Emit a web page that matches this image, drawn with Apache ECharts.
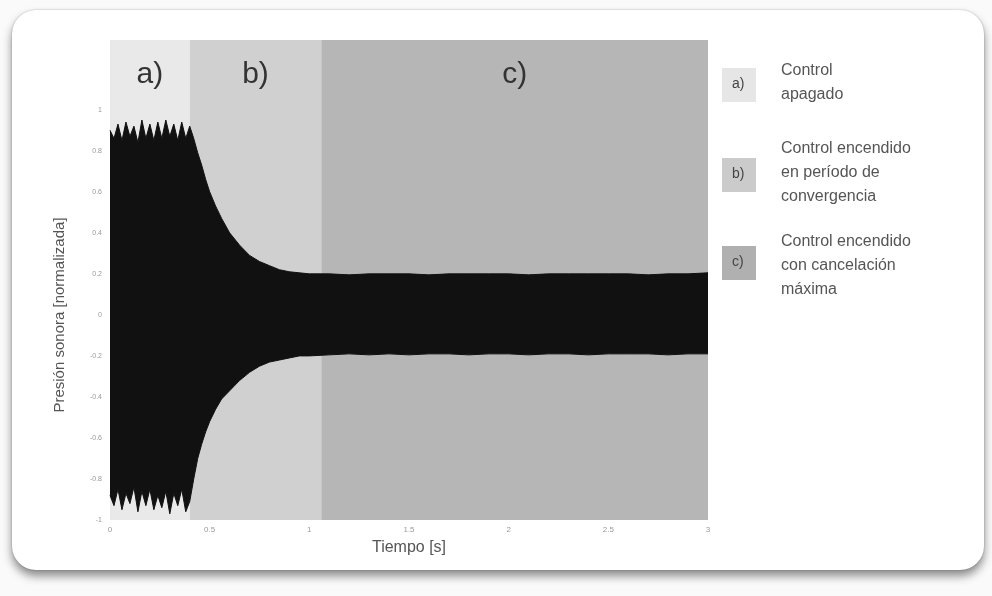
<!DOCTYPE html>
<html>
<head>
<meta charset="utf-8">
<script src="https://cdn.jsdelivr.net/npm/echarts@6/dist/echarts.min.js"></script>
<style>
  html, body { margin: 0; padding: 0; background: #fafafa; }
  #card {
    position: absolute; left: 12px; top: 10px; width: 972px; height: 560px;
    background: #ffffff; border-radius: 24px;
    box-shadow: 0 6px 10px rgba(0,0,0,0.45), 0 0 2px rgba(0,0,0,0.25);
  }
  #chart { position: absolute; left: 0; top: 0; width: 992px; height: 596px; }
</style>
</head>
<body>
<div id="card"></div>
<div id="chart"></div>
<script>
// Sampling instants of the pressure envelope (s)
const times = [
  0.00, 0.02, 0.04, 0.06, 0.08, 0.10, 0.12, 0.14, 0.16, 0.18,
  0.20, 0.22, 0.24, 0.26, 0.28, 0.30, 0.32, 0.34, 0.36, 0.38,
  0.40, 0.42, 0.44, 0.46, 0.48, 0.50, 0.53, 0.56, 0.60, 0.65,
  0.70, 0.75, 0.80, 0.85, 0.90, 0.95, 1.00, 1.10, 1.20, 1.30,
  1.40, 1.50, 1.60, 1.70, 1.80, 1.90, 2.00, 2.10, 2.20, 2.30,
  2.40, 2.50, 2.60, 2.70, 2.80, 2.90, 3.00
];
// Positive peaks of the normalised pressure signal
const upperEnvelope = [
  0.90, 0.86, 0.93, 0.85, 0.94, 0.87, 0.92, 0.84, 0.95, 0.86,
  0.93, 0.85, 0.94, 0.86, 0.95, 0.87, 0.93, 0.85, 0.94, 0.86,
  0.92, 0.86, 0.79, 0.73, 0.66, 0.60, 0.53, 0.47, 0.40, 0.34,
  0.29, 0.26, 0.24, 0.22, 0.21, 0.205, 0.20, 0.20, 0.195, 0.20,
  0.20, 0.20, 0.195, 0.20, 0.20, 0.20, 0.20, 0.195, 0.20, 0.20,
  0.20, 0.20, 0.20, 0.195, 0.20, 0.20, 0.205
];
// Negative peaks of the normalised pressure signal
const lowerEnvelope = [
  -0.88, -0.93, -0.85, -0.95, -0.87, -0.92, -0.84, -0.96, -0.86, -0.93,
  -0.85, -0.95, -0.88, -0.94, -0.86, -0.97, -0.87, -0.93, -0.85, -0.96,
  -0.91, -0.80, -0.70, -0.63, -0.57, -0.52, -0.46, -0.41, -0.37, -0.32,
  -0.28, -0.25, -0.23, -0.22, -0.21, -0.20, -0.20, -0.195, -0.19, -0.195,
  -0.19, -0.195, -0.19, -0.19, -0.195, -0.19, -0.19, -0.195, -0.19, -0.19,
  -0.195, -0.19, -0.19, -0.19, -0.195, -0.19, -0.19
];
// Operating phases of the active control (start / end in s)
const phaseKeys = ['a)', 'b)', 'c)'];
const phaseStart = [0, 0.40, 1.06];
const phaseEnd = [0.40, 1.06, 3.0];
const phaseDescriptions = [
  'Control\napagado',
  'Control encendido\nen período de\nconvergencia',
  'Control encendido\ncon cancelación\nmáxima'
];
const xTicks = [0, 0.5, 1, 1.5, 2, 2.5, 3];

const phaseColors = ['#e9e9e9', '#d0d0d0', '#b6b6b6'];
const legendBoxColors = ['#e6e6e6', '#cbcbcb', '#b0b0b0'];
const FONT = 'Liberation Sans, Arial, sans-serif';

const upperData = times.map((t, i) => [t, upperEnvelope[i]]);
const lowerData = times.map((t, i) => [t, lowerEnvelope[i]]);

const markAreaData = phaseKeys.map((k, i) => [
  { name: k, xAxis: phaseStart[i], itemStyle: { color: phaseColors[i] } },
  { xAxis: phaseEnd[i] }
]);

// Legend entries on the right side
const legendTops = [68, 158, 246];
const legendTextTops = [59, 137, 230];
const graphics = [];
phaseKeys.forEach((k, i) => {
  graphics.push({
    type: 'rect', left: 722, top: legendTops[i],
    shape: { width: 34, height: 34 },
    style: { fill: legendBoxColors[i] }
  });
  graphics.push({
    type: 'text', left: 732, top: legendTops[i] + 9,
    style: { text: k, fill: '#444', font: '14px ' + FONT }
  });
  graphics.push({
    type: 'text', left: 781, top: legendTextTops[i],
    style: { text: phaseDescriptions[i], fill: '#555', font: '16px ' + FONT, lineHeight: 24 }
  });
});
graphics.push({
  type: 'text', x: 60, y: 315, rotation: Math.PI / 2,
  style: {
    text: 'Presión sonora [normalizada]', fill: '#555',
    font: '15px ' + FONT, align: 'center', verticalAlign: 'middle'
  }
});

const chart = echarts.init(document.getElementById('chart'), null, { renderer: 'canvas' });
chart.setOption({
  backgroundColor: 'transparent',
  animation: false,
  grid: { left: 110, right: 284, top: 40, bottom: 76 },
  xAxis: {
    type: 'value', min: 0, max: 3, interval: 0.5,
    name: 'Tiempo [s]', nameLocation: 'middle', nameGap: 20,
    nameTextStyle: { color: '#555', fontSize: 16, fontFamily: FONT },
    axisLine: { show: false }, axisTick: { show: false }, splitLine: { show: false },
    axisLabel: {
      color: '#999', fontSize: 8, fontFamily: FONT, margin: 6,
      formatter: v => xTicks.includes(v) ? String(v) : ''
    }
  },
  yAxis: {
    type: 'value', min: -1, max: 1.34, interval: 0.2,
    axisLine: { show: false }, axisTick: { show: false }, splitLine: { show: false },
    axisLabel: {
      color: '#999', fontSize: 7, fontFamily: FONT, margin: 8,
      showMaxLabel: false,
      formatter: v => (v > 1.001 ? '' : String(Math.round(v * 10) / 10))
    }
  },
  graphic: graphics,
  series: [
    {
      type: 'line', data: [], z: 1, silent: true,
      markArea: {
        silent: true,
        label: {
          show: true, position: 'insideTop', distance: 20,
          color: '#333', fontSize: 30, fontFamily: FONT
        },
        data: markAreaData
      }
    },
    {
      // positive half of the signal, filled slightly past zero so both halves overlap
      type: 'line', data: upperData, z: 3, symbol: 'none', silent: true,
      lineStyle: { color: '#111', width: 1 },
      areaStyle: { color: '#111', opacity: 1, origin: -0.05 }
    },
    {
      type: 'line', data: lowerData, z: 3, symbol: 'none', silent: true,
      lineStyle: { color: '#111', width: 1 },
      areaStyle: { color: '#111', opacity: 1, origin: 0.05 }
    }
  ]
});
</script>
</body>
</html>
